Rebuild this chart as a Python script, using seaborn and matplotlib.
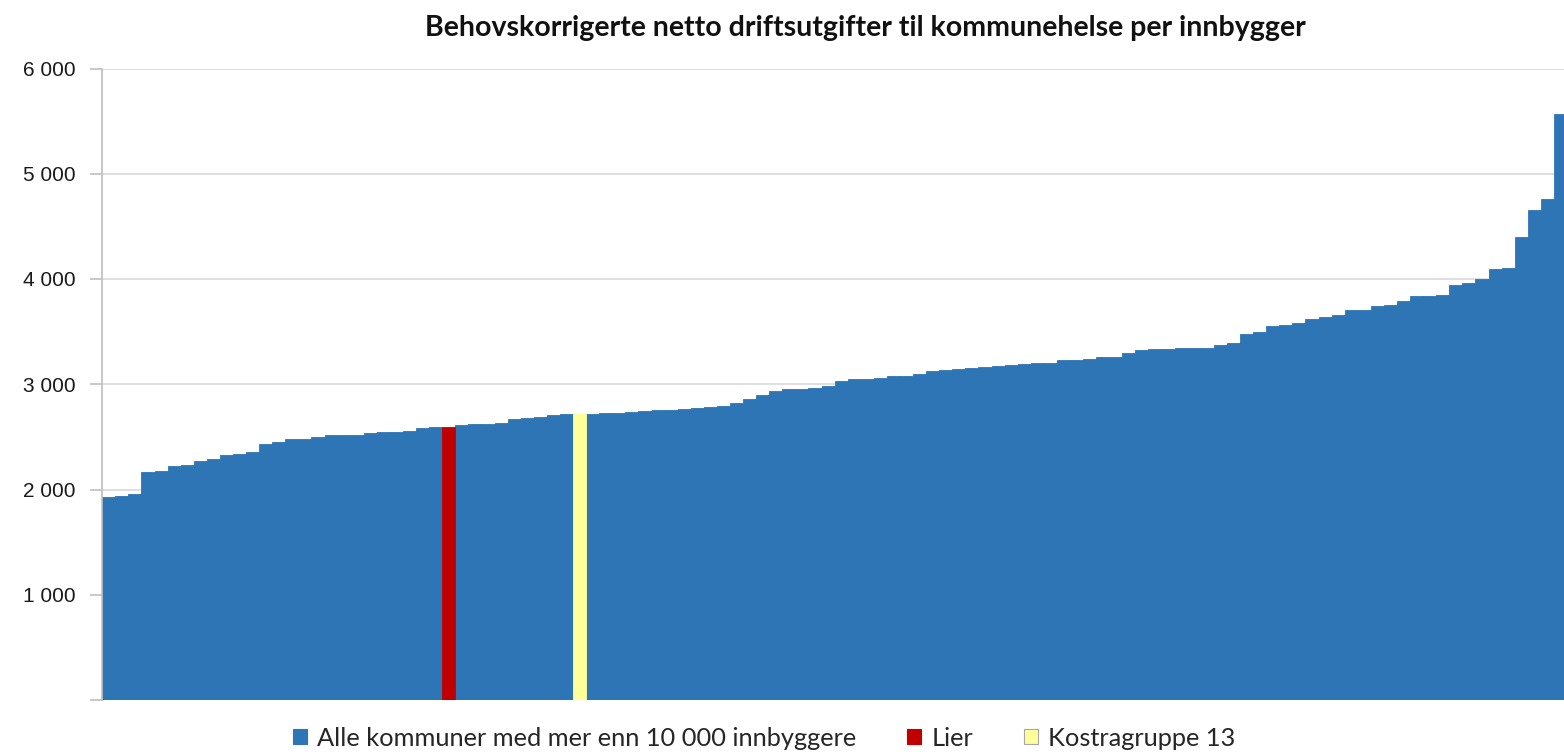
####
#imports
####

import numpy as np
import pandas as pd
import matplotlib
matplotlib.use("Agg")
import matplotlib.pyplot as plt
from matplotlib.patches import Patch
from matplotlib.ticker import FuncFormatter
import seaborn as sns

####
#data
####

TITLE = "Behovskorrigerte netto driftsutgifter til kommunehelse per innbygger"

alle_kommuner = [
    1925, 1938, 1957, 2163, 2179, 2220, 2233, 2268, 2287, 2325,
    2337, 2360, 2432, 2451, 2477, 2480, 2496, 2515, 2516, 2518,
    2534, 2543, 2549, 2556, 2587, 2594, 2610, 2622, 2627, 2630,
    2670, 2683, 2686, 2711, 2714, 2722, 2727, 2731, 2739, 2746,
    2752, 2758, 2768, 2774, 2784, 2796, 2818, 2856, 2898, 2939,
    2951, 2958, 2967, 2983, 3034, 3047, 3053, 3062, 3075, 3077,
    3097, 3123, 3139, 3145, 3151, 3167, 3177, 3183, 3192, 3199,
    3205, 3227, 3234, 3243, 3256, 3262, 3300, 3322, 3332, 3338,
    3340, 3341, 3342, 3373, 3389, 3474, 3500, 3557, 3560, 3582,
    3620, 3642, 3658, 3705, 3708, 3746, 3753, 3791, 3838, 3840,
    3852, 3943, 3965, 4000, 4092, 4101, 4402, 4656, 4757, 5565,
]
lier = 2597
kostragruppe_13 = 2717

series_names = ["Alle kommuner med mer enn 10 000 innbyggere", "Lier", "Kostragruppe 13"]
series_colors = ["#2E75B6", "#C00000", "#FFFF99"]
y_ticks = [0, 1000, 2000, 3000, 4000, 5000, 6000]

####
#defs
####

def build_frame():
    df = pd.DataFrame({
        "verdi": alle_kommuner + [lier, kostragruppe_13],
        "gruppe": [series_names[0]] * len(alle_kommuner) + [series_names[1], series_names[2]],
    })
    df = df.sort_values("verdi", kind="stable").reset_index(drop=True)
    df["nr"] = df.index
    return df

def fmt_thousands(v, pos):
    if v == 0:
        return ""
    return f"{v:,.0f}".replace(",", " ")

def plot_chart(df, output_path):
    sns.set_style("white")
    fig = plt.figure(figsize=(15.64, 7.52), dpi=100)
    n = len(df)
    # plot area runs slightly past the right edge, like the cropped original
    ax = fig.add_axes([102.2 / 1564, 52 / 752, (1567 - 102.2) / 1564, 631.5 / 752])

    palette = dict(zip(series_names, series_colors))
    sns.barplot(data=df, x="nr", y="verdi", hue="gruppe", palette=palette,
                dodge=False, width=1.0, legend=False, ax=ax, saturation=1)
    for p in ax.patches:
        p.set_edgecolor(p.get_facecolor())
        p.set_linewidth(0.6)

    ax.set_xlim(-0.5, n - 0.5)
    ax.set_ylim(0, 6000)
    ax.set_yticks(y_ticks)
    ax.yaxis.set_major_formatter(FuncFormatter(fmt_thousands))
    ax.yaxis.grid(True, color="#D9D9D9", linewidth=1.2)
    ax.set_axisbelow(True)
    ax.set_xticks([])
    ax.set_xlabel("")
    ax.set_ylabel("")
    for side in ["top", "right", "bottom"]:
        ax.spines[side].set_visible(False)
    ax.spines["left"].set_color("#BFBFBF")
    ax.spines["left"].set_linewidth(1.2)
    ax.tick_params(axis="y", which="major", direction="out", length=9, width=1.2,
                   color="#BFBFBF", pad=10, labelsize=15, labelcolor="#1a1a1a", left=True)
    for lbl in ax.get_yticklabels():
        lbl.set_family(["Liberation Sans", "DejaVu Sans"])

    fig.text(865 / 1564, 1 - 28 / 752, TITLE, ha="center", va="center",
             fontsize=20.5, fontweight="bold", family=["Lato", "DejaVu Sans"], color="#111111")

    handles = [Patch(facecolor=c, edgecolor=("#A6A6A6" if c == "#FFFF99" else c), linewidth=0.8)
               for c in series_colors]
    fig.legend(handles, series_names, loc="center", bbox_to_anchor=(764 / 1564, 1 - 738 / 752),
               ncol=3, frameon=False, handlelength=0.55, handleheight=0.55, handletextpad=0.4,
               columnspacing=2.0, prop={"family": ["Lato", "DejaVu Sans"], "size": 18.3})

    fig.savefig(output_path, dpi=100)
    plt.close(fig)

def main():
    df = build_frame()
    plot_chart(df, "out.png")


if __name__ == '__main__':
    main()
